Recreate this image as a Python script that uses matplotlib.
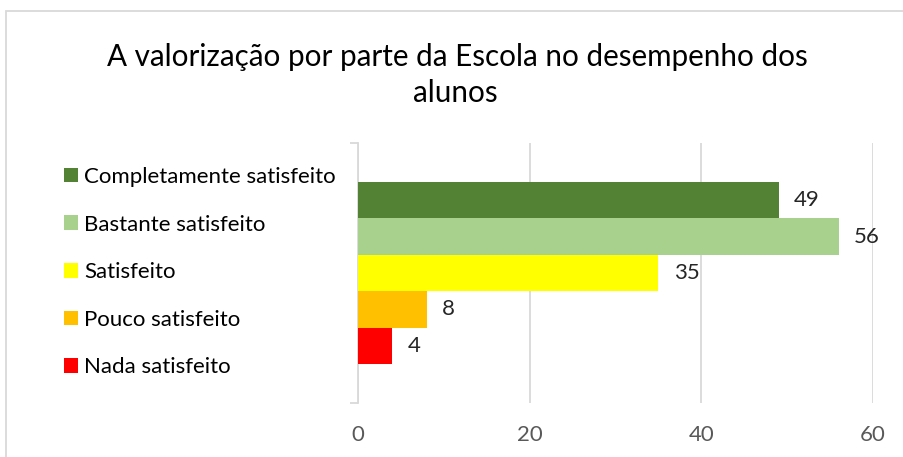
import numpy as np
import matplotlib.pyplot as plt
from matplotlib.patches import Rectangle

plt.rcParams['font.family'] = ['Lato', 'DejaVu Sans']

# Data
categorias = ['Completamente satisfeito', 'Bastante satisfeito', 'Satisfeito',
              'Pouco satisfeito', 'Nada satisfeito']
valores = [49, 56, 35, 8, 4]
cores = ['#548235', '#A9D18E', '#FFFF00', '#FFC000', '#FF0000']
xticks = [0, 20, 40, 60]

W, H = 904, 457
fig = plt.figure(figsize=(W / 100, H / 100), dpi=100)

# chart area border (runs off the right and bottom edges)
fig.patches.append(Rectangle((6.5 / W, -0.05), 1.2, (H - 11) / H + 0.05,
                             transform=fig.transFigure, fill=False,
                             edgecolor='#d9d9d9', linewidth=1.3))

ax = fig.add_axes([358 / W, (H - 403) / H, (873 - 358) / W, 260 / H])

# one category, five series side by side (first series on top)
n = len(valores)
pos = np.arange(n)[::-1] - (n - 1) / 2
bars = []
for p, v, c, lab in zip(pos, valores, cores, categorias):
    b = ax.barh(p, v, height=1.0, color=c, label=lab, zorder=3)
    ax.bar_label(b, labels=[str(v)], padding=11, fontsize=16, color='#262626')
    bars.append(b)

half = 260 / 36.4 / 2
ax.set_ylim(-half, half)
ax.set_xlim(0, 60)
ax.set_xticks(xticks)
ax.grid(axis='x', color='#d9d9d9', linewidth=1.3, zorder=0)
ax.tick_params(axis='x', length=0, pad=16, labelsize=16, labelcolor='#595959')
ax.set_yticks([-half, half])
ax.set_yticklabels([])
ax.tick_params(axis='y', length=6, width=1.3, color='#d9d9d9', direction='out')
for s in ['top', 'right', 'bottom']:
    ax.spines[s].set_visible(False)
ax.spines['left'].set_color('#d9d9d9')
ax.spines['left'].set_linewidth(1.3)

fig.text(457 / W, 1 - 57 / H, 'A valorização por parte da Escola no desempenho dos',
         ha='center', va='center', fontsize=21.3, color='#000000')
fig.text(455 / W, 1 - 93 / H, 'alunos', ha='center', va='center',
         fontsize=21.3, color='#000000')

fig.legend(handles=bars, labels=categorias, loc='upper left',
           bbox_to_anchor=(64 / W, 1 - 167 / H), frameon=False, fontsize=16,
           handlelength=0.63, handleheight=0.63, handletextpad=0.27,
           labelspacing=1.24, borderpad=0, borderaxespad=0)

fig.savefig('out.png', dpi=100)
